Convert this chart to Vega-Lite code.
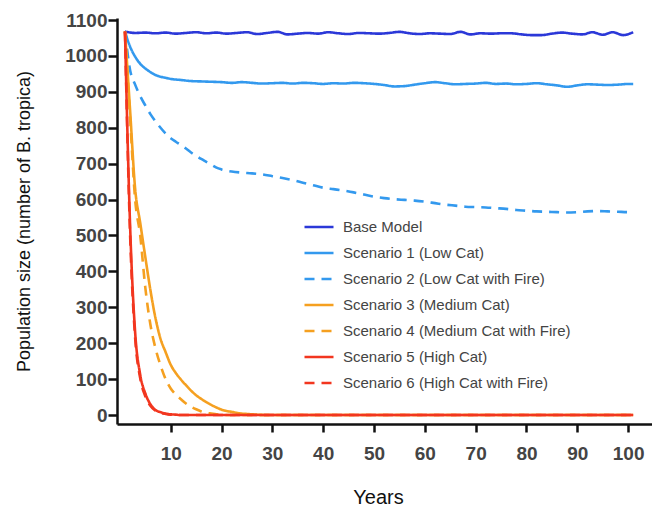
{
  "$schema": "https://vega.github.io/schema/vega-lite/v6.json",
  "autosize": "none",
  "width": 535,
  "height": 406,
  "padding": {"left": 117, "top": 18, "right": 0, "bottom": 86},
  "background": "white",
  "config": {
    "font": "Liberation Sans",
    "view": {"stroke": null},
    "axis": {"grid": false, "domainColor": "#111", "domainWidth": 2.5, "tickColor": "#111", "tickWidth": 2.5, "labelColor": "#444", "labelFontWeight": "bold", "labelFontSize": 19, "titleColor": "#111", "titleFontWeight": "normal"}
  },
  "data": {"values": [
    {"series": "Base Model", "year": 1, "pop": 1068},
    {"series": "Base Model", "year": 3, "pop": 1064},
    {"series": "Base Model", "year": 5, "pop": 1065},
    {"series": "Base Model", "year": 7, "pop": 1063},
    {"series": "Base Model", "year": 9, "pop": 1065},
    {"series": "Base Model", "year": 11, "pop": 1062},
    {"series": "Base Model", "year": 13, "pop": 1064},
    {"series": "Base Model", "year": 15, "pop": 1066},
    {"series": "Base Model", "year": 17, "pop": 1063},
    {"series": "Base Model", "year": 19, "pop": 1065},
    {"series": "Base Model", "year": 21, "pop": 1062},
    {"series": "Base Model", "year": 23, "pop": 1064},
    {"series": "Base Model", "year": 25, "pop": 1066},
    {"series": "Base Model", "year": 27, "pop": 1061},
    {"series": "Base Model", "year": 29, "pop": 1064},
    {"series": "Base Model", "year": 31, "pop": 1067},
    {"series": "Base Model", "year": 33, "pop": 1060},
    {"series": "Base Model", "year": 35, "pop": 1062},
    {"series": "Base Model", "year": 37, "pop": 1064},
    {"series": "Base Model", "year": 39, "pop": 1062},
    {"series": "Base Model", "year": 41, "pop": 1066},
    {"series": "Base Model", "year": 43, "pop": 1063},
    {"series": "Base Model", "year": 45, "pop": 1061},
    {"series": "Base Model", "year": 47, "pop": 1064},
    {"series": "Base Model", "year": 49, "pop": 1063},
    {"series": "Base Model", "year": 51, "pop": 1062},
    {"series": "Base Model", "year": 53, "pop": 1064},
    {"series": "Base Model", "year": 55, "pop": 1067},
    {"series": "Base Model", "year": 57, "pop": 1063},
    {"series": "Base Model", "year": 59, "pop": 1061},
    {"series": "Base Model", "year": 61, "pop": 1063},
    {"series": "Base Model", "year": 63, "pop": 1062},
    {"series": "Base Model", "year": 65, "pop": 1061},
    {"series": "Base Model", "year": 67, "pop": 1067},
    {"series": "Base Model", "year": 69, "pop": 1060},
    {"series": "Base Model", "year": 71, "pop": 1063},
    {"series": "Base Model", "year": 73, "pop": 1062},
    {"series": "Base Model", "year": 75, "pop": 1063},
    {"series": "Base Model", "year": 77, "pop": 1063},
    {"series": "Base Model", "year": 79, "pop": 1060},
    {"series": "Base Model", "year": 81, "pop": 1058},
    {"series": "Base Model", "year": 83, "pop": 1058},
    {"series": "Base Model", "year": 85, "pop": 1062},
    {"series": "Base Model", "year": 87, "pop": 1065},
    {"series": "Base Model", "year": 89, "pop": 1062},
    {"series": "Base Model", "year": 91, "pop": 1060},
    {"series": "Base Model", "year": 93, "pop": 1066},
    {"series": "Base Model", "year": 95, "pop": 1059},
    {"series": "Base Model", "year": 97, "pop": 1066},
    {"series": "Base Model", "year": 99, "pop": 1058},
    {"series": "Base Model", "year": 101, "pop": 1066},

    {"series": "Scenario 1 (Low Cat)", "year": 1, "pop": 1068},
    {"series": "Scenario 1 (Low Cat)", "year": 2, "pop": 1026},
    {"series": "Scenario 1 (Low Cat)", "year": 3, "pop": 998},
    {"series": "Scenario 1 (Low Cat)", "year": 4, "pop": 978},
    {"series": "Scenario 1 (Low Cat)", "year": 5, "pop": 965},
    {"series": "Scenario 1 (Low Cat)", "year": 6, "pop": 955},
    {"series": "Scenario 1 (Low Cat)", "year": 7, "pop": 947},
    {"series": "Scenario 1 (Low Cat)", "year": 8, "pop": 942},
    {"series": "Scenario 1 (Low Cat)", "year": 9, "pop": 939},
    {"series": "Scenario 1 (Low Cat)", "year": 10, "pop": 936},
    {"series": "Scenario 1 (Low Cat)", "year": 12, "pop": 933},
    {"series": "Scenario 1 (Low Cat)", "year": 14, "pop": 930},
    {"series": "Scenario 1 (Low Cat)", "year": 16, "pop": 929},
    {"series": "Scenario 1 (Low Cat)", "year": 18, "pop": 928},
    {"series": "Scenario 1 (Low Cat)", "year": 20, "pop": 927},
    {"series": "Scenario 1 (Low Cat)", "year": 22, "pop": 925},
    {"series": "Scenario 1 (Low Cat)", "year": 24, "pop": 927},
    {"series": "Scenario 1 (Low Cat)", "year": 26, "pop": 925},
    {"series": "Scenario 1 (Low Cat)", "year": 28, "pop": 923},
    {"series": "Scenario 1 (Low Cat)", "year": 30, "pop": 924},
    {"series": "Scenario 1 (Low Cat)", "year": 32, "pop": 925},
    {"series": "Scenario 1 (Low Cat)", "year": 34, "pop": 923},
    {"series": "Scenario 1 (Low Cat)", "year": 36, "pop": 925},
    {"series": "Scenario 1 (Low Cat)", "year": 38, "pop": 924},
    {"series": "Scenario 1 (Low Cat)", "year": 40, "pop": 922},
    {"series": "Scenario 1 (Low Cat)", "year": 42, "pop": 924},
    {"series": "Scenario 1 (Low Cat)", "year": 44, "pop": 923},
    {"series": "Scenario 1 (Low Cat)", "year": 46, "pop": 925},
    {"series": "Scenario 1 (Low Cat)", "year": 48, "pop": 924},
    {"series": "Scenario 1 (Low Cat)", "year": 50, "pop": 922},
    {"series": "Scenario 1 (Low Cat)", "year": 52, "pop": 919},
    {"series": "Scenario 1 (Low Cat)", "year": 54, "pop": 915},
    {"series": "Scenario 1 (Low Cat)", "year": 56, "pop": 916},
    {"series": "Scenario 1 (Low Cat)", "year": 58, "pop": 920},
    {"series": "Scenario 1 (Low Cat)", "year": 60, "pop": 924},
    {"series": "Scenario 1 (Low Cat)", "year": 62, "pop": 927},
    {"series": "Scenario 1 (Low Cat)", "year": 64, "pop": 924},
    {"series": "Scenario 1 (Low Cat)", "year": 66, "pop": 921},
    {"series": "Scenario 1 (Low Cat)", "year": 68, "pop": 922},
    {"series": "Scenario 1 (Low Cat)", "year": 70, "pop": 923},
    {"series": "Scenario 1 (Low Cat)", "year": 72, "pop": 925},
    {"series": "Scenario 1 (Low Cat)", "year": 74, "pop": 922},
    {"series": "Scenario 1 (Low Cat)", "year": 76, "pop": 923},
    {"series": "Scenario 1 (Low Cat)", "year": 78, "pop": 921},
    {"series": "Scenario 1 (Low Cat)", "year": 80, "pop": 922},
    {"series": "Scenario 1 (Low Cat)", "year": 82, "pop": 924},
    {"series": "Scenario 1 (Low Cat)", "year": 84, "pop": 921},
    {"series": "Scenario 1 (Low Cat)", "year": 86, "pop": 918},
    {"series": "Scenario 1 (Low Cat)", "year": 88, "pop": 914},
    {"series": "Scenario 1 (Low Cat)", "year": 90, "pop": 918},
    {"series": "Scenario 1 (Low Cat)", "year": 92, "pop": 921},
    {"series": "Scenario 1 (Low Cat)", "year": 94, "pop": 920},
    {"series": "Scenario 1 (Low Cat)", "year": 96, "pop": 919},
    {"series": "Scenario 1 (Low Cat)", "year": 98, "pop": 920},
    {"series": "Scenario 1 (Low Cat)", "year": 100, "pop": 922},
    {"series": "Scenario 1 (Low Cat)", "year": 101, "pop": 922},

    {"series": "Scenario 2 (Low Cat with Fire)", "year": 1, "pop": 1068},
    {"series": "Scenario 2 (Low Cat with Fire)", "year": 2, "pop": 961},
    {"series": "Scenario 2 (Low Cat with Fire)", "year": 3, "pop": 920},
    {"series": "Scenario 2 (Low Cat with Fire)", "year": 4, "pop": 888},
    {"series": "Scenario 2 (Low Cat with Fire)", "year": 5, "pop": 862},
    {"series": "Scenario 2 (Low Cat with Fire)", "year": 6, "pop": 838},
    {"series": "Scenario 2 (Low Cat with Fire)", "year": 7, "pop": 818},
    {"series": "Scenario 2 (Low Cat with Fire)", "year": 8, "pop": 800},
    {"series": "Scenario 2 (Low Cat with Fire)", "year": 9, "pop": 784},
    {"series": "Scenario 2 (Low Cat with Fire)", "year": 10, "pop": 771},
    {"series": "Scenario 2 (Low Cat with Fire)", "year": 11, "pop": 761},
    {"series": "Scenario 2 (Low Cat with Fire)", "year": 12, "pop": 752},
    {"series": "Scenario 2 (Low Cat with Fire)", "year": 13, "pop": 742},
    {"series": "Scenario 2 (Low Cat with Fire)", "year": 14, "pop": 731},
    {"series": "Scenario 2 (Low Cat with Fire)", "year": 15, "pop": 722},
    {"series": "Scenario 2 (Low Cat with Fire)", "year": 16, "pop": 713},
    {"series": "Scenario 2 (Low Cat with Fire)", "year": 17, "pop": 705},
    {"series": "Scenario 2 (Low Cat with Fire)", "year": 18, "pop": 697},
    {"series": "Scenario 2 (Low Cat with Fire)", "year": 19, "pop": 689},
    {"series": "Scenario 2 (Low Cat with Fire)", "year": 20, "pop": 684},
    {"series": "Scenario 2 (Low Cat with Fire)", "year": 22, "pop": 678},
    {"series": "Scenario 2 (Low Cat with Fire)", "year": 24, "pop": 675},
    {"series": "Scenario 2 (Low Cat with Fire)", "year": 26, "pop": 673},
    {"series": "Scenario 2 (Low Cat with Fire)", "year": 28, "pop": 670},
    {"series": "Scenario 2 (Low Cat with Fire)", "year": 30, "pop": 665},
    {"series": "Scenario 2 (Low Cat with Fire)", "year": 32, "pop": 660},
    {"series": "Scenario 2 (Low Cat with Fire)", "year": 34, "pop": 654},
    {"series": "Scenario 2 (Low Cat with Fire)", "year": 36, "pop": 647},
    {"series": "Scenario 2 (Low Cat with Fire)", "year": 38, "pop": 640},
    {"series": "Scenario 2 (Low Cat with Fire)", "year": 40, "pop": 633},
    {"series": "Scenario 2 (Low Cat with Fire)", "year": 42, "pop": 629},
    {"series": "Scenario 2 (Low Cat with Fire)", "year": 44, "pop": 625},
    {"series": "Scenario 2 (Low Cat with Fire)", "year": 46, "pop": 620},
    {"series": "Scenario 2 (Low Cat with Fire)", "year": 48, "pop": 614},
    {"series": "Scenario 2 (Low Cat with Fire)", "year": 50, "pop": 608},
    {"series": "Scenario 2 (Low Cat with Fire)", "year": 52, "pop": 604},
    {"series": "Scenario 2 (Low Cat with Fire)", "year": 54, "pop": 601},
    {"series": "Scenario 2 (Low Cat with Fire)", "year": 56, "pop": 599},
    {"series": "Scenario 2 (Low Cat with Fire)", "year": 58, "pop": 597},
    {"series": "Scenario 2 (Low Cat with Fire)", "year": 60, "pop": 594},
    {"series": "Scenario 2 (Low Cat with Fire)", "year": 62, "pop": 590},
    {"series": "Scenario 2 (Low Cat with Fire)", "year": 64, "pop": 586},
    {"series": "Scenario 2 (Low Cat with Fire)", "year": 66, "pop": 583},
    {"series": "Scenario 2 (Low Cat with Fire)", "year": 68, "pop": 580},
    {"series": "Scenario 2 (Low Cat with Fire)", "year": 70, "pop": 579},
    {"series": "Scenario 2 (Low Cat with Fire)", "year": 72, "pop": 578},
    {"series": "Scenario 2 (Low Cat with Fire)", "year": 74, "pop": 576},
    {"series": "Scenario 2 (Low Cat with Fire)", "year": 76, "pop": 574},
    {"series": "Scenario 2 (Low Cat with Fire)", "year": 78, "pop": 571},
    {"series": "Scenario 2 (Low Cat with Fire)", "year": 80, "pop": 569},
    {"series": "Scenario 2 (Low Cat with Fire)", "year": 82, "pop": 567},
    {"series": "Scenario 2 (Low Cat with Fire)", "year": 84, "pop": 566},
    {"series": "Scenario 2 (Low Cat with Fire)", "year": 86, "pop": 565},
    {"series": "Scenario 2 (Low Cat with Fire)", "year": 88, "pop": 564},
    {"series": "Scenario 2 (Low Cat with Fire)", "year": 90, "pop": 565},
    {"series": "Scenario 2 (Low Cat with Fire)", "year": 92, "pop": 567},
    {"series": "Scenario 2 (Low Cat with Fire)", "year": 94, "pop": 568},
    {"series": "Scenario 2 (Low Cat with Fire)", "year": 96, "pop": 567},
    {"series": "Scenario 2 (Low Cat with Fire)", "year": 98, "pop": 566},
    {"series": "Scenario 2 (Low Cat with Fire)", "year": 100, "pop": 565},
    {"series": "Scenario 2 (Low Cat with Fire)", "year": 101, "pop": 565},

    {"series": "Scenario 3 (Medium Cat)", "year": 1, "pop": 1068},
    {"series": "Scenario 3 (Medium Cat)", "year": 2, "pop": 850},
    {"series": "Scenario 3 (Medium Cat)", "year": 3, "pop": 630},
    {"series": "Scenario 3 (Medium Cat)", "year": 4, "pop": 535},
    {"series": "Scenario 3 (Medium Cat)", "year": 5, "pop": 440},
    {"series": "Scenario 3 (Medium Cat)", "year": 6, "pop": 348},
    {"series": "Scenario 3 (Medium Cat)", "year": 7, "pop": 270},
    {"series": "Scenario 3 (Medium Cat)", "year": 8, "pop": 212},
    {"series": "Scenario 3 (Medium Cat)", "year": 9, "pop": 175},
    {"series": "Scenario 3 (Medium Cat)", "year": 10, "pop": 140},
    {"series": "Scenario 3 (Medium Cat)", "year": 11, "pop": 117},
    {"series": "Scenario 3 (Medium Cat)", "year": 12, "pop": 99},
    {"series": "Scenario 3 (Medium Cat)", "year": 13, "pop": 83},
    {"series": "Scenario 3 (Medium Cat)", "year": 14, "pop": 68},
    {"series": "Scenario 3 (Medium Cat)", "year": 15, "pop": 55},
    {"series": "Scenario 3 (Medium Cat)", "year": 16, "pop": 45},
    {"series": "Scenario 3 (Medium Cat)", "year": 17, "pop": 36},
    {"series": "Scenario 3 (Medium Cat)", "year": 18, "pop": 28},
    {"series": "Scenario 3 (Medium Cat)", "year": 19, "pop": 21},
    {"series": "Scenario 3 (Medium Cat)", "year": 20, "pop": 15},
    {"series": "Scenario 3 (Medium Cat)", "year": 21, "pop": 11},
    {"series": "Scenario 3 (Medium Cat)", "year": 22, "pop": 9},
    {"series": "Scenario 3 (Medium Cat)", "year": 23, "pop": 6},
    {"series": "Scenario 3 (Medium Cat)", "year": 24, "pop": 4},
    {"series": "Scenario 3 (Medium Cat)", "year": 25, "pop": 3},
    {"series": "Scenario 3 (Medium Cat)", "year": 26, "pop": 2},
    {"series": "Scenario 3 (Medium Cat)", "year": 27, "pop": 1},
    {"series": "Scenario 3 (Medium Cat)", "year": 29, "pop": 0},
    {"series": "Scenario 3 (Medium Cat)", "year": 101, "pop": 0},

    {"series": "Scenario 4 (Medium Cat with Fire)", "year": 1, "pop": 1068},
    {"series": "Scenario 4 (Medium Cat with Fire)", "year": 2, "pop": 830},
    {"series": "Scenario 4 (Medium Cat with Fire)", "year": 3, "pop": 600},
    {"series": "Scenario 4 (Medium Cat with Fire)", "year": 4, "pop": 500},
    {"series": "Scenario 4 (Medium Cat with Fire)", "year": 5, "pop": 355},
    {"series": "Scenario 4 (Medium Cat with Fire)", "year": 6, "pop": 252},
    {"series": "Scenario 4 (Medium Cat with Fire)", "year": 7, "pop": 186},
    {"series": "Scenario 4 (Medium Cat with Fire)", "year": 8, "pop": 138},
    {"series": "Scenario 4 (Medium Cat with Fire)", "year": 9, "pop": 100},
    {"series": "Scenario 4 (Medium Cat with Fire)", "year": 10, "pop": 74},
    {"series": "Scenario 4 (Medium Cat with Fire)", "year": 11, "pop": 57},
    {"series": "Scenario 4 (Medium Cat with Fire)", "year": 12, "pop": 44},
    {"series": "Scenario 4 (Medium Cat with Fire)", "year": 13, "pop": 32},
    {"series": "Scenario 4 (Medium Cat with Fire)", "year": 14, "pop": 23},
    {"series": "Scenario 4 (Medium Cat with Fire)", "year": 15, "pop": 16},
    {"series": "Scenario 4 (Medium Cat with Fire)", "year": 16, "pop": 10},
    {"series": "Scenario 4 (Medium Cat with Fire)", "year": 17, "pop": 6},
    {"series": "Scenario 4 (Medium Cat with Fire)", "year": 18, "pop": 4},
    {"series": "Scenario 4 (Medium Cat with Fire)", "year": 19, "pop": 2},
    {"series": "Scenario 4 (Medium Cat with Fire)", "year": 20, "pop": 1},
    {"series": "Scenario 4 (Medium Cat with Fire)", "year": 21, "pop": 0},
    {"series": "Scenario 4 (Medium Cat with Fire)", "year": 101, "pop": 0},

    {"series": "Scenario 6 (High Cat with Fire)", "year": 1, "pop": 1068},
    {"series": "Scenario 6 (High Cat with Fire)", "year": 2, "pop": 505},
    {"series": "Scenario 6 (High Cat with Fire)", "year": 3, "pop": 215},
    {"series": "Scenario 6 (High Cat with Fire)", "year": 4, "pop": 102},
    {"series": "Scenario 6 (High Cat with Fire)", "year": 5, "pop": 52},
    {"series": "Scenario 6 (High Cat with Fire)", "year": 6, "pop": 26},
    {"series": "Scenario 6 (High Cat with Fire)", "year": 7, "pop": 12},
    {"series": "Scenario 6 (High Cat with Fire)", "year": 8, "pop": 6},
    {"series": "Scenario 6 (High Cat with Fire)", "year": 9, "pop": 3},
    {"series": "Scenario 6 (High Cat with Fire)", "year": 10, "pop": 1},
    {"series": "Scenario 6 (High Cat with Fire)", "year": 11, "pop": 0},
    {"series": "Scenario 6 (High Cat with Fire)", "year": 101, "pop": 0},

    {"series": "Scenario 5 (High Cat)", "year": 1, "pop": 1068},
    {"series": "Scenario 5 (High Cat)", "year": 2, "pop": 530},
    {"series": "Scenario 5 (High Cat)", "year": 3, "pop": 230},
    {"series": "Scenario 5 (High Cat)", "year": 4, "pop": 112},
    {"series": "Scenario 5 (High Cat)", "year": 5, "pop": 60},
    {"series": "Scenario 5 (High Cat)", "year": 6, "pop": 30},
    {"series": "Scenario 5 (High Cat)", "year": 7, "pop": 14},
    {"series": "Scenario 5 (High Cat)", "year": 8, "pop": 8},
    {"series": "Scenario 5 (High Cat)", "year": 9, "pop": 4},
    {"series": "Scenario 5 (High Cat)", "year": 10, "pop": 2},
    {"series": "Scenario 5 (High Cat)", "year": 11, "pop": 1},
    {"series": "Scenario 5 (High Cat)", "year": 12, "pop": 0},
    {"series": "Scenario 5 (High Cat)", "year": 101, "pop": 0}
  ]},
  "mark": {"type": "line", "strokeWidth": 2.6, "interpolate": "monotone", "clip": true},
  "encoding": {
    "x": {
      "field": "year", "type": "quantitative",
      "scale": {"domain": [-0.57, 104.7], "nice": false, "zero": false},
      "axis": {"values": [10, 20, 30, 40, 50, 60, 70, 80, 90, 100], "format": "d", "tickSize": 8, "labelPadding": 12, "title": "Years", "titleFontSize": 20, "titlePadding": 24, "titleX": 261}
    },
    "y": {
      "field": "pop", "type": "quantitative",
      "scale": {"domain": [-25, 1105.6], "nice": false, "zero": false},
      "axis": {"values": [0, 100, 200, 300, 400, 500, 600, 700, 800, 900, 1000, 1100], "format": "d", "tickSize": 9, "labelPadding": 1, "title": "Population size (number of B. tropica)", "titleFontSize": 18, "titlePadding": 31}
    },
    "color": {
      "field": "series", "type": "nominal",
      "scale": {
        "domain": ["Base Model", "Scenario 1 (Low Cat)", "Scenario 2 (Low Cat with Fire)", "Scenario 3 (Medium Cat)", "Scenario 4 (Medium Cat with Fire)", "Scenario 5 (High Cat)", "Scenario 6 (High Cat with Fire)"],
        "range": ["#2b38d8", "#3399ee", "#3399ee", "#f5a020", "#f5a020", "#f2361f", "#f2361f"]
      },
      "legend": {"title": null, "orient": "none", "legendX": 186, "legendY": 193, "symbolType": "stroke", "symbolSize": 841, "symbolStrokeWidth": 2.6, "labelFontSize": 15, "labelColor": "#444", "labelFontWeight": "normal", "labelOffset": 8, "rowPadding": 2, "labelLimit": 400}
    },
    "strokeDash": {
      "field": "series", "type": "nominal",
      "scale": {
        "domain": ["Base Model", "Scenario 1 (Low Cat)", "Scenario 2 (Low Cat with Fire)", "Scenario 3 (Medium Cat)", "Scenario 4 (Medium Cat with Fire)", "Scenario 5 (High Cat)", "Scenario 6 (High Cat with Fire)"],
        "range": [[1, 0], [1, 0], [10, 7], [1, 0], [10, 7], [1, 0], [10, 7]]
      },
      "legend": {"title": null}
    }
  }
}
